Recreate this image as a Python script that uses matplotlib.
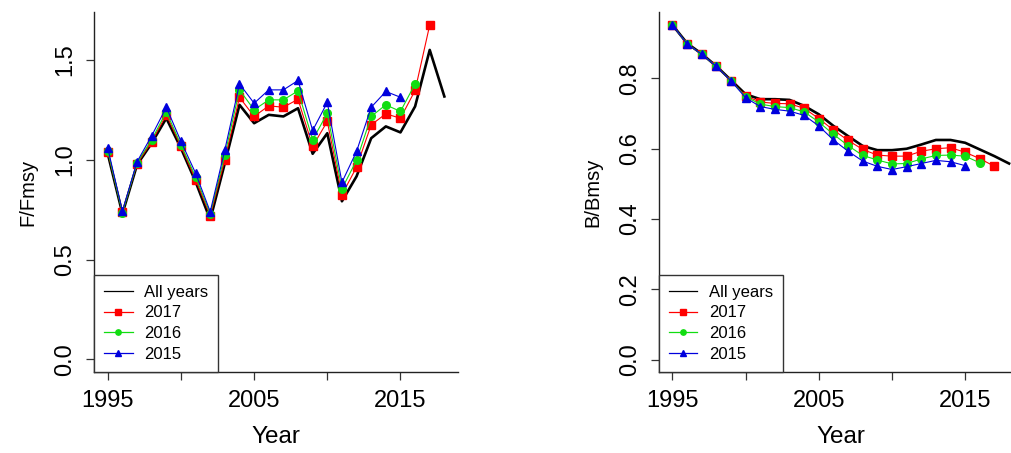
import numpy as np
import matplotlib
matplotlib.use('Agg')
import matplotlib.pyplot as plt

plt.rcParams['font.family'] = ['Liberation Sans', 'DejaVu Sans']

# F/Fmsy by year, one run per terminal year
years_all = np.arange(1995, 2019)
f_all = [1.03, 0.73, 0.975, 1.083, 1.208, 1.058, 0.89, 0.70, 0.983, 1.275, 1.183, 1.225,
         1.217, 1.258, 1.03, 1.133, 0.792, 0.917, 1.108, 1.167, 1.137, 1.267, 1.55, 1.317]
f_2017 = [1.04, 0.74, 0.98, 1.09, 1.225, 1.067, 0.90, 0.72, 1.0, 1.313, 1.217, 1.27,
          1.263, 1.303, 1.067, 1.192, 0.825, 0.963, 1.175, 1.23, 1.208, 1.347, 1.675]
f_2016 = [1.045, 0.735, 0.985, 1.10, 1.24, 1.075, 0.915, 0.73, 1.025, 1.35, 1.25, 1.30,
          1.30, 1.345, 1.10, 1.233, 0.855, 0.997, 1.217, 1.275, 1.242, 1.38]
f_2015 = [1.058, 0.742, 0.99, 1.12, 1.263, 1.092, 0.933, 0.74, 1.05, 1.38, 1.283, 1.35,
          1.35, 1.397, 1.147, 1.287, 0.887, 1.042, 1.263, 1.342, 1.313]

# B/Bmsy by year
b_all = [0.952, 0.90, 0.87, 0.835, 0.795, 0.755, 0.741, 0.741, 0.739, 0.722, 0.698, 0.665,
         0.636, 0.608, 0.596, 0.596, 0.60, 0.612, 0.625, 0.625, 0.617, 0.598, 0.579, 0.558]
b_2017 = [0.952, 0.898, 0.869, 0.834, 0.793, 0.750, 0.733, 0.729, 0.728, 0.715, 0.686, 0.653,
          0.624, 0.598, 0.582, 0.579, 0.579, 0.593, 0.60, 0.603, 0.59, 0.572, 0.55]
b_2016 = [0.952, 0.898, 0.869, 0.834, 0.793, 0.748, 0.727, 0.72, 0.717, 0.705, 0.676, 0.641,
          0.609, 0.581, 0.568, 0.557, 0.558, 0.571, 0.581, 0.582, 0.579, 0.56]
b_2015 = [0.952, 0.898, 0.869, 0.834, 0.793, 0.745, 0.72, 0.712, 0.707, 0.695, 0.665, 0.625,
          0.593, 0.565, 0.550, 0.541, 0.549, 0.558, 0.567, 0.563, 0.552]

labels = ['All years', '2017', '2016', '2015']
red, green, blue = '#ff0000', '#11dd11', '#0000dd'

fig = plt.figure(figsize=(10.12, 4.53), dpi=100)
ax1 = fig.add_axes([0.0932, 0.1788, 0.3592, 0.7947])
ax2 = fig.add_axes([0.6512, 0.1788, 0.3592, 0.7947])


def panel(ax, allv, v17, v16, v15, ylab, yticks, ylim):
    ax.plot(years_all, allv, color='black', lw=1.9, label=labels[0])
    ax.plot(years_all[:len(v17)], v17, color=red, lw=0.8, marker='s', ms=5.5, label=labels[1])
    ax.plot(years_all[:len(v16)], v16, color=green, lw=0.8, marker='o', ms=5.5, label=labels[2])
    ax.plot(years_all[:len(v15)], v15, color=blue, lw=0.8, marker='^', ms=6, label=labels[3])
    ax.set_xlim(1994.08, 2018.92)
    ax.set_ylim(*ylim)
    ax.set_xticks([1995, 2000, 2005, 2010, 2015])
    ax.set_xticklabels(['1995', '', '2005', '', '2015'])
    ax.set_yticks(yticks)
    ax.set_yticklabels(['%.1f' % t for t in yticks], rotation=90, va='center')
    ax.spines['top'].set_visible(False)
    ax.spines['right'].set_visible(False)
    for s in ['left', 'bottom']:
        ax.spines[s].set_color('#222222')
        ax.spines[s].set_linewidth(1.0)
    ax.tick_params(axis='both', length=6, width=0.9, color='#333333', labelsize=17, pad=7)
    ax.set_xlabel('Year', fontsize=17.5, labelpad=10)
    ax.set_ylabel(ylab, fontsize=14.5, labelpad=12)
    leg = ax.legend(loc='lower left', bbox_to_anchor=(0, 0), borderaxespad=0, fancybox=False,
                    edgecolor='#333333', framealpha=1, fontsize=12, handlelength=1.7,
                    handletextpad=0.7, labelspacing=0.35, borderpad=0.6, markerscale=0.7)
    leg.get_frame().set_linewidth(1.0)
    for h in leg.get_lines():
        h.set_linewidth(0.9)


panel(ax1, f_all, f_2017, f_2016, f_2015, 'F/Fmsy', [0.0, 0.5, 1.0, 1.5], (-0.063, 1.74))
panel(ax2, b_all, b_2017, b_2016, b_2015, 'B/Bmsy', [0.0, 0.2, 0.4, 0.6, 0.8], (-0.035, 0.989))

fig.savefig('out.png', dpi=100)
